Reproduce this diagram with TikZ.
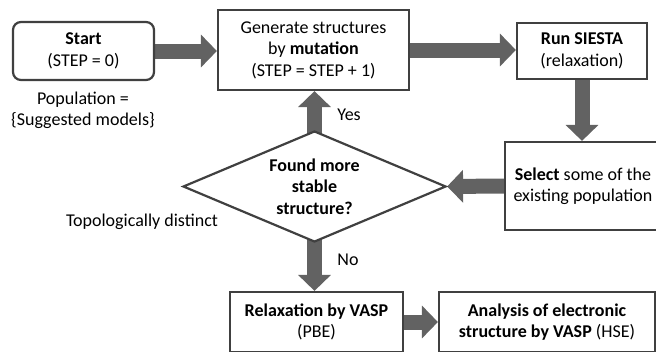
\documentclass[tikz,border=0pt]{standalone}
\usepackage{fontspec}
\setmainfont{Carlito}
\usepackage{tikz}
\usetikzlibrary{arrows.meta,shapes.geometric,positioning,backgrounds}
\usepackage{xcolor}
\definecolor{boxgray}{RGB}{64,64,64}
\definecolor{arrowgray}{RGB}{98,98,98}
\tikzstyle{fatarrow} = [line width=15pt,-{Triangle[length=16pt,width=32pt]},color=arrowgray]
\tikzstyle{stepbox} = [draw=boxgray,line width=2.2pt,fill=white,align=center,inner sep=0pt]

\begin{document}
\begin{tikzpicture}[x=1pt,y=-1pt,font=\fontsize{18}{21.5}\selectfont]
\useasboundingbox (0,0) rectangle (656,351);
\clip (0,0) rectangle (656,351);

% Process boxes
\node[stepbox, rounded corners=8pt, minimum width=141pt, minimum height=58pt] (start) at (83.5,51) {\textbf{Start}\\(STEP = 0)};
\node[stepbox, minimum width=191pt, minimum height=80pt] (gen) at (313.5,50) {Generate structures\\by \textbf{mutation}\\(STEP = STEP + 1)};
\node[stepbox, minimum width=130pt, minimum height=56pt] (siesta) at (582,51) {\textbf{Run SIESTA}\\(relaxation)};
\node[stepbox, minimum width=156pt, minimum height=88pt] (select) at (583,186) {\textbf{Select} some of the\\existing population};
\node[stepbox, minimum width=173pt, minimum height=60pt] (relax) at (316.5,322) {\textbf{Relaxation by VASP}\\(PBE)};
\node[stepbox, minimum width=216pt, minimum height=60pt] (ana) at (547,322) {\textbf{Analysis of electronic}\\\textbf{structure by VASP} (HSE)};

% Decision
\node[stepbox, diamond, shape aspect=2.37, minimum width=263pt, minimum height=111pt] (dia) at (314.5,186.5) {\textbf{Found more}\\\textbf{stable}\\\textbf{structure?}};

% Labels
\node[align=center] (pop) at (83,110.5) {Population =\\\{Suggested models\}};
\node (yes) at (349,115) {Yes};
\node (no) at (348,260) {No};
\node (topo) at (142,222) {Topologically distinct};

% Arrows
\begin{scope}[on background layer]
\draw[fatarrow] (start.east) -- (gen.west |- start.east);
\draw[fatarrow] (gen.east) -- (siesta.west |- gen.east);
\draw[fatarrow] (siesta.south) -- (siesta.south |- select.north);
\draw[fatarrow] (select.west) -- (dia.east);
\draw[fatarrow] (dia.center) -- (dia.center |- gen.south);
\draw[fatarrow] (dia.center) -- (dia.center |- relax.north);
\draw[fatarrow] (relax.east) -- (ana.west);
\end{scope}
\end{tikzpicture}
\end{document}
